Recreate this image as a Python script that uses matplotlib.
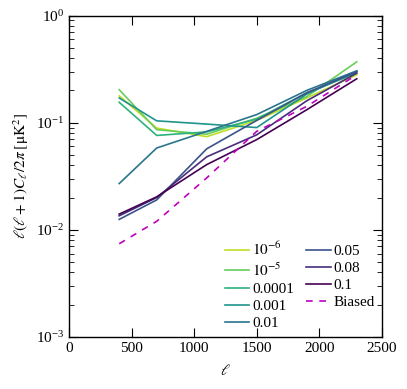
import numpy as np
import matplotlib
matplotlib.use("Agg")
import matplotlib.pyplot as plt

plt.rcParams['font.family'] = ['Liberation Serif', 'DejaVu Serif']
plt.rcParams['mathtext.fontset'] = 'stix'
plt.rcParams['font.size'] = 11

ell = [400, 700, 1100, 1500, 1900, 2300]
labels = [r'$10^{-6}$', r'$10^{-5}$', '0.0001', '0.001', '0.01', '0.05', '0.08', '0.1']
s_1e6 = [0.178, 0.089, 0.074, 0.105, 0.170, 0.280]
s_1e5 = [0.203, 0.086, 0.078, 0.110, 0.175, 0.370]
s_1e4 = [0.155, 0.076, 0.082, 0.108, 0.190, 0.290]
s_1e3 = [0.170, 0.104, 0.097, 0.090, 0.185, 0.300]
s_001 = [0.027, 0.058, 0.083, 0.119, 0.200, 0.305]
s_005 = [0.0125, 0.019, 0.057, 0.105, 0.190, 0.300]
s_008 = [0.0135, 0.020, 0.048, 0.077, 0.160, 0.290]
s_01 = [0.014, 0.0203, 0.0406, 0.0695, 0.132, 0.257]
biased = [0.0074, 0.012, 0.0305, 0.083, 0.142, 0.280]
series = [s_1e6, s_1e5, s_1e4, s_1e3, s_001, s_005, s_008, s_01]

fig = plt.figure(figsize=(4.07, 3.89), dpi=100)
ax = fig.add_axes([0.170, 0.134, 0.768, 0.826])

cols = plt.cm.viridis(np.linspace(0.9, 0.0, len(series)))
for s, lab, c in zip(series, labels, cols):
    ax.plot(ell, s, color=c, lw=1.2, label=lab)
ax.plot(ell, biased, color='m', lw=1.2, ls=(0, (4, 4)), label='Biased')

ax.set_yscale('log')
ax.set_xlim(0, 2500)
ax.set_ylim(1e-3, 1)
ax.set_xticks([0, 500, 1000, 1500, 2000, 2500])
ax.tick_params(which='both', direction='in', top=True, right=True)
ax.tick_params(which='major', length=6.5, width=0.8)
ax.tick_params(which='minor', length=3.5, width=0.6)
for sp in ax.spines.values():
    sp.set_linewidth(1.0)
ax.set_xlabel(r'$\ell$', labelpad=6)
ax.set_ylabel(r'$\ell(\ell+1)C_\ell/2\pi\;[\mathrm{\mu K}^2]$')

ax.legend(ncol=2, frameon=False, loc='lower right', bbox_to_anchor=(1.0, 0.0),
          handlelength=1.6, handletextpad=0.2, columnspacing=0.8,
          labelspacing=0.22, borderaxespad=0.05)

fig.savefig('out.png', dpi=100)
